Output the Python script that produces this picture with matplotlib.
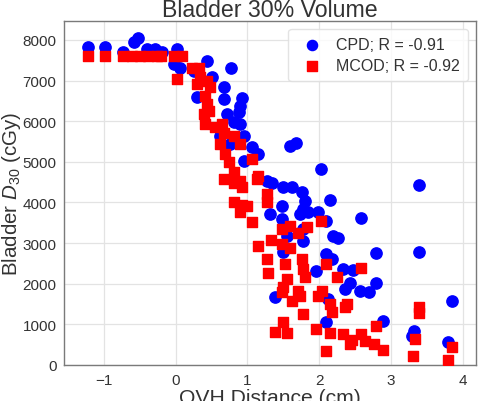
import matplotlib
matplotlib.use("Agg")
import matplotlib.pyplot as plt

# OVH distance (cm) and bladder D30 (cGy)
cpd_x = [-1.22, -0.99, -0.73, -0.58, -0.52, -0.40, -0.29, -0.19, 0.02, -0.03,
         0.06, 0.25, 0.44, 0.50, 0.77, 0.67, 0.30, 0.67, 0.92, 0.90,
         0.88, 0.71, 0.81, 0.90, 0.62, 0.76, 0.95, 1.06, 1.15, 0.95,
         1.60, 1.68, 2.02, 3.40, 1.27, 1.34, 1.50, 1.62, 1.76, 2.15,
         1.81, 1.48, 1.78, 1.85, 1.74, 1.99, 1.31, 1.48, 2.09, 2.58,
         1.78, 2.20, 2.27, 1.78, 1.55, 1.50, 2.09, 2.18, 2.79, 3.40,
         1.95, 2.34, 2.47, 2.36, 2.43, 2.57, 2.69, 2.79, 1.38, 2.13,
         3.86, 2.09, 2.89, 3.33, 3.29, 3.80]
cpd_y = [7820, 7820, 7710, 7940, 8060, 7770, 7770, 7700, 7770, 7400,
         7320, 7240, 7490, 7100, 7320, 6830, 6600, 6540, 6560, 6380,
         6220, 6170, 5970, 5930, 5640, 5440, 5640, 5360, 5190, 5030,
         5400, 5460, 4820, 4440, 4530, 4490, 4370, 4380, 4250, 4060,
         4040, 3920, 3840, 3760, 3710, 3760, 3710, 3590, 3550, 3610,
         3350, 3180, 3120, 3060, 3180, 2770, 2730, 2610, 2760, 2790,
         2310, 2360, 2340, 1870, 2030, 1830, 1790, 2030, 1680, 1620,
         1570, 1070, 1090, 840, 710, 570]

mcod_x = [-1.22, -0.99, -0.73, -0.61, -0.50, -0.38, -0.26, -0.20, -0.03, 0.09,
          0.02, 0.23, 0.32, 0.34, 0.30, 0.44, 0.48, 0.41, 0.44, 0.39,
          0.46, 0.41, 0.55, 0.64, 0.67, 0.81, 0.62, 0.90, 0.69, 1.06,
          0.74, 0.67, 0.81, 0.90, 1.15, 0.92, 1.27, 0.81, 1.13, 1.27,
          0.81, 0.92, 0.99, 0.90, 1.06, 1.48, 1.60, 1.71, 1.83, 2.03,
          1.33, 1.48, 1.60, 1.15, 1.27, 1.53, 1.76, 2.09, 1.29, 1.78,
          1.81, 2.25, 2.59, 1.55, 1.50, 1.48, 1.71, 1.74, 1.62, 1.99,
          2.04, 2.15, 2.18, 2.39, 2.36, 1.78, 3.40, 3.40, 1.50, 1.39,
          1.55, 1.96, 2.15, 2.34, 2.46, 2.59, 2.64, 2.76, 2.89, 2.43,
          2.79, 3.34, 3.85, 2.09, 3.31, 3.80]
mcod_y = [7610, 7610, 7610, 7610, 7610, 7610, 7610, 7610, 7610, 7610,
          7040, 7320, 7320, 7080, 6910, 6990, 6830, 6620, 6420, 6170,
          6260, 5930, 5850, 5930, 5720, 5640, 5440, 5440, 5190, 5070,
          4990, 4580, 4740, 4530, 4660, 4370, 4210, 4490, 4580, 4000,
          4020, 3940, 3920, 3770, 3530, 3350, 3430, 3260, 3390, 3550,
          3080, 2980, 2870, 2930, 2610, 2480, 2610, 2480, 2260, 2360,
          2160, 2160, 2380, 2120, 1910, 1790, 1830, 1700, 1580, 1700,
          1830, 1500, 1310, 1500, 1420, 1250, 1420, 1280, 1050, 820,
          790, 890, 790, 760, 620, 760, 600, 520, 380, 520,
          970, 640, 440, 350, 210, 120]

plt.rcParams['font.family'] = ['Liberation Sans', 'DejaVu Sans']
plt.rcParams['mathtext.fontset'] = 'custom'
plt.rcParams['mathtext.rm'] = 'Liberation Sans'
plt.rcParams['mathtext.it'] = 'Liberation Sans:italic'

text_col = '#333333'
fig = plt.figure(figsize=(4.79, 4.02), dpi=100)
ax = fig.add_axes([0.134, 0.0896, 0.86, 0.855])

ax.scatter(cpd_x, cpd_y, s=66, marker='o', color='#0000ff', label='CPD; R = -0.91', zorder=3)
ax.scatter(mcod_x, mcod_y, s=60, marker='s', color='#ff0000', label='MCOD; R = -0.92', zorder=4)

ax.set_xlim(-1.555, 4.19)
ax.set_ylim(0, 8460)
ax.set_xticks([-1, 0, 1, 2, 3, 4])
ax.set_yticks(range(0, 8001, 1000))
ax.grid(True, color='#e3e3e3', linewidth=0.9, zorder=0)
ax.set_axisbelow(True)
for sp in ax.spines.values():
    sp.set_color('#7a7a7a')
    sp.set_linewidth(1.0)
ax.tick_params(labelsize=11, colors=text_col, length=0, pad=5.5)

ax.set_title('Bladder 30% Volume', fontsize=16.7, color=text_col, pad=3)
ax.set_xlabel('OVH Distance (cm)', fontsize=15.2, color=text_col, labelpad=1)
ax.set_ylabel('Bladder $D_{30}$ (cGy)', fontsize=14.8, color=text_col)
ax.yaxis.set_label_coords(-0.1, 0.5)

leg = ax.legend(loc='upper right', fontsize=11.5, frameon=True, borderpad=0.5,
                handletextpad=0.5, labelspacing=0.35, markerscale=0.9)
leg.get_frame().set_edgecolor('#dddddd')
for t in leg.get_texts():
    t.set_color(text_col)

fig.savefig('out.png', dpi=100)
